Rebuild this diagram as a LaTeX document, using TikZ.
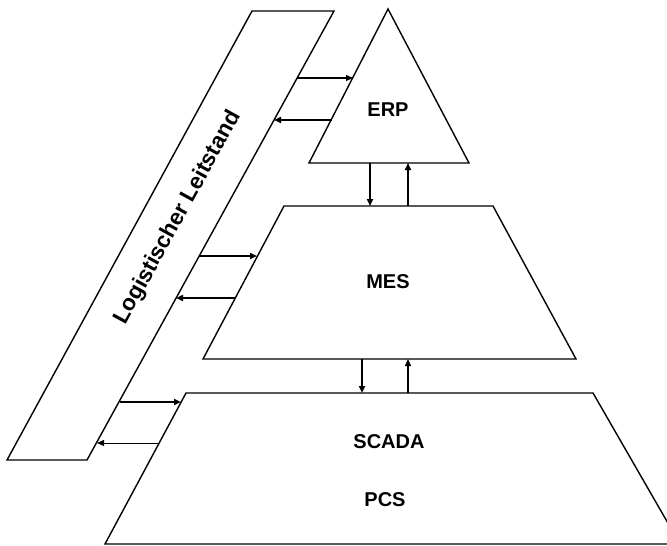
\documentclass[tikz,border=0pt]{standalone}
\usepackage{fontspec}
\setmainfont{Liberation Sans}
\usetikzlibrary{arrows.meta}
\begin{document}
\begin{tikzpicture}[x=1pt,y=-1pt,
  layer/.style={draw,line width=1.4pt,line join=miter},
  lbl/.style={font=\fontsize{20}{24}\selectfont\bfseries,inner sep=0pt},
  conn/.style={-{Triangle[length=7pt,width=6pt]},line width=1.6pt}]
\useasboundingbox (0,0) rectangle (667,546);
\clip (0,0) rectangle (667,546);
% shapes
\draw[layer] (7,460) -- (87,460) -- (334,11) -- (252,11) -- cycle;
\draw[layer] (309,163) -- (469,163) -- (388,9) -- cycle;
\draw[layer] (203,359) -- (576,359) -- (493,206) -- (284,206) -- cycle;
\draw[layer] (105,544) -- (680,544) -- (593,393) -- (186,393) -- cycle;
% labels
\node[lbl] (erp) at (388,109.5) {ERP};
\node[lbl] (mes) at (388,281.5) {MES};
\node[lbl] (scada) at (389,442) {SCADA};
\node[lbl] (pcs) at (385,500) {PCS};
\node[lbl,font=\fontsize{22.5}{26}\selectfont\bfseries,rotate=61.2] (lls) at (178,218) {Logistischer Leitstand};
% connector ends
\coordinate (l1) at (297,78);  \coordinate (e1) at (353,78);
\coordinate (e2) at (332,120); \coordinate (l2) at (274,120);
\coordinate (e3) at (370,163); \coordinate (m3) at (370,206);
\coordinate (m4) at (408,206); \coordinate (e4) at (408,163);
\coordinate (l5) at (199,256); \coordinate (m5) at (257,256);
\coordinate (m6) at (235,298); \coordinate (l6) at (176,298);
\coordinate (m7) at (362,359); \coordinate (s7) at (362,393);
\coordinate (s8) at (408,393); \coordinate (m8) at (408,359);
\coordinate (l9) at (120,402); \coordinate (s9) at (181,402);
\coordinate (s10) at (159,443); \coordinate (l10) at (97,443);
% connectors
\draw[conn,line width=1.2pt] (l1) -- (e1);
\draw[conn,line width=2.4pt] (e2) -- (l2);
\draw[conn] (e3) -- (m3);
\draw[conn] (m4) -- (e4);
\draw[conn,line width=2pt] (l5) -- (m5);
\draw[conn,line width=2pt] (m6) -- (l6);
\draw[conn,line width=2pt] (m7) -- (s7);
\draw[conn,line width=1.4pt] (s8) -- (m8);
\draw[conn,line width=2.4pt] (l9) -- (s9);
\draw[conn,line width=1pt] (s10) -- (l10);
\end{tikzpicture}
\end{document}
